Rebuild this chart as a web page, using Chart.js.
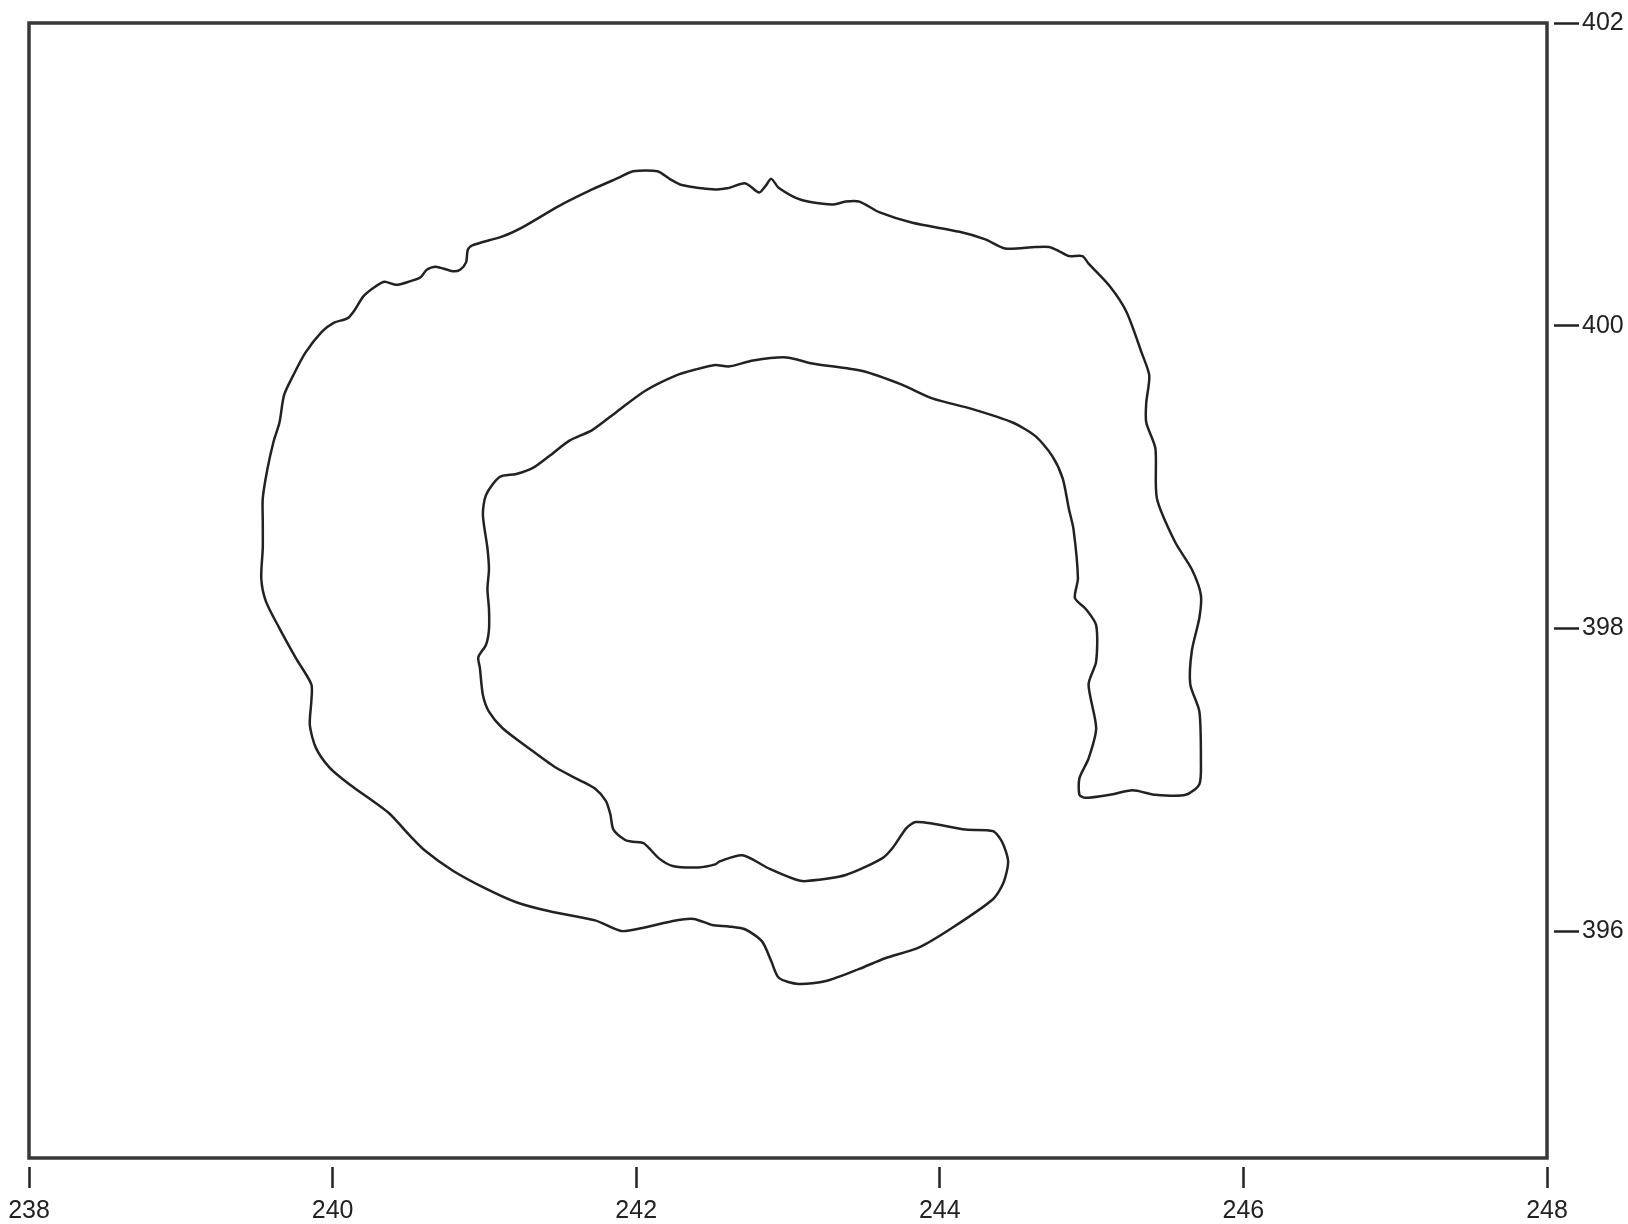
<!DOCTYPE html>
<html>
<head>
<meta charset="utf-8">
<script src="https://cdn.jsdelivr.net/npm/chart.js@4.4.1/dist/chart.umd.min.js"></script>
<style>
  html, body { margin: 0; padding: 0; background: #fff; }
  #wrap { width: 1628px; height: 1224px; position: relative; }
</style>
</head>
<body>
<div id="wrap"><canvas id="outline"></canvas></div>
<script>
// axis ticks
const xTicks = [238, 240, 242, 244, 246, 248];
const yTicks = [396, 398, 400, 402];

// contour, traced as one closed loop (outer edge, lower lobe, inner edge, right lobe)
const loopX = [
  242.61, 242.52, 242.30, 242.22, 242.14, 241.98, 241.89, 241.71, 241.49, 241.25,
  241.12, 240.92, 240.89, 240.88, 240.84, 240.79, 240.68, 240.62, 240.58, 240.50,
  240.42, 240.34, 240.27, 240.20, 240.15, 240.10, 240.01, 239.93, 239.82, 239.74,
  239.68, 239.65, 239.61, 239.57, 239.54, 239.54, 239.54, 239.53, 239.56, 239.65,
  239.76, 239.86, 239.86, 239.85, 239.89, 239.98, 240.11, 240.37, 240.50, 240.61,
  240.79, 240.99, 241.21, 241.43, 241.73, 241.90, 242.04, 242.26, 242.38, 242.50,
  242.61, 242.72, 242.83, 242.89, 242.94, 243.07, 243.25, 243.47, 243.64, 243.86,
  244.08, 244.35, 244.42, 244.45, 244.41, 244.35, 244.17, 243.95, 243.84, 243.78,
  243.69, 243.62, 243.38, 243.12, 243.05, 242.88, 242.70, 242.55, 242.52, 242.41,
  242.24, 242.15, 242.05, 241.98, 241.93, 241.85, 241.83, 241.80, 241.73, 241.62,
  241.47, 241.29, 241.12, 241.03, 240.99, 240.97, 240.96, 241.01, 241.03, 241.03,
  241.02, 241.03, 241.02, 240.99, 241.01, 241.10, 241.21, 241.32, 241.43, 241.56,
  241.71, 241.87, 242.06, 242.26, 242.39, 242.52, 242.61, 242.77, 242.99, 243.16,
  243.49, 243.75, 243.95, 244.21, 244.48, 244.63, 244.74, 244.81, 244.85, 244.88,
  244.91, 244.89, 244.96, 245.03, 245.03, 244.98, 245.03, 244.98, 244.92, 244.92,
  244.96, 245.12, 245.27, 245.42, 245.62, 245.71, 245.72, 245.71, 245.65, 245.66,
  245.71, 245.72, 245.66, 245.55, 245.43, 245.42, 245.36, 245.36, 245.38, 245.33,
  245.23, 245.12, 244.98, 244.94, 244.85, 244.79, 244.72, 244.63, 244.43, 244.30,
  244.13, 243.82, 243.60, 243.47, 243.38, 243.29, 243.09, 242.94, 242.89, 242.85,
  242.81, 242.72, 242.61
];
const loopY = [
  400.91, 400.90, 400.93, 400.97, 401.02, 401.02, 400.98, 400.90, 400.79, 400.65,
  400.59, 400.53, 400.50, 400.42, 400.37, 400.36, 400.39, 400.37, 400.32, 400.29,
  400.27, 400.29, 400.25, 400.19, 400.11, 400.05, 400.02, 399.96, 399.82, 399.67,
  399.54, 399.36, 399.23, 399.05, 398.86, 398.70, 398.53, 398.33, 398.18, 398.00,
  397.80, 397.63, 397.52, 397.36, 397.21, 397.08, 396.97, 396.78, 396.64, 396.53,
  396.40, 396.29, 396.19, 396.13, 396.07, 396.00, 396.02, 396.07, 396.08, 396.04,
  396.03, 396.01, 395.93, 395.80, 395.69, 395.65, 395.67, 395.75, 395.82, 395.89,
  396.02, 396.21, 396.32, 396.46, 396.59, 396.66, 396.67, 396.71, 396.72, 396.68,
  396.55, 396.48, 396.37, 396.33, 396.34, 396.41, 396.50, 396.46, 396.44, 396.42,
  396.43, 396.48, 396.58, 396.59, 396.60, 396.67, 396.77, 396.86, 396.94, 397.00,
  397.08, 397.21, 397.34, 397.45, 397.56, 397.74, 397.81, 397.89, 397.99, 398.13,
  398.26, 398.39, 398.53, 398.75, 398.88, 399.00, 399.02, 399.06, 399.14, 399.24,
  399.31, 399.43, 399.57, 399.67, 399.71, 399.74, 399.73, 399.77, 399.79, 399.75,
  399.70, 399.61, 399.52, 399.45, 399.36, 399.27, 399.14, 398.99, 398.79, 398.66,
  398.33, 398.20, 398.13, 398.02, 397.78, 397.63, 397.34, 397.14, 397.01, 396.90,
  396.88, 396.90, 396.93, 396.90, 396.90, 396.97, 397.12, 397.45, 397.63, 397.85,
  398.07, 398.22, 398.39, 398.57, 398.86, 399.19, 399.36, 399.49, 399.67, 399.82,
  400.09, 400.26, 400.41, 400.46, 400.46, 400.49, 400.52, 400.52, 400.51, 400.57,
  400.62, 400.68, 400.75, 400.82, 400.82, 400.80, 400.83, 400.91, 400.97, 400.92,
  400.88, 400.94, 400.91
];

const ink = '#222';

// frame around the plot area (all four sides)
const framePlugin = {
  id: 'frame',
  afterDraw(chart) {
    const a = chart.chartArea;
    const ctx = chart.ctx;
    ctx.save();
    ctx.strokeStyle = '#383838';
    ctx.lineWidth = 3.5;
    ctx.strokeRect(a.left, a.top, a.right - a.left, a.bottom - a.top);
    ctx.restore();
  }
};

const points = loopX.map((x, i) => ({ x: x, y: loopY[i] }));

const ctx = document.getElementById('outline').getContext('2d');
new Chart(ctx, {
  type: 'scatter',
  data: {
    datasets: [{
      data: points,
      showLine: true,
      borderColor: ink,
      borderWidth: 2.5,
      pointRadius: 0,
      tension: 0.25,
      fill: false
    }]
  },
  options: {
    responsive: true,
    maintainAspectRatio: false,
    animation: false,
    layout: { padding: { left: 29, top: 23, right: 0, bottom: 0 } },
    plugins: {
      legend: { display: false },
      tooltip: { enabled: false }
    },
    scales: {
      x: {
        type: 'linear',
        position: 'bottom',
        min: 238,
        max: 248,
        afterBuildTicks: s => { s.ticks = xTicks.map(v => ({ value: v })); },
        afterFit: s => { s.height = 66; },
        border: { display: false },
        grid: {
          drawOnChartArea: false,
          drawTicks: true,
          tickLength: 30,
          tickColor: ink,
          tickWidth: 2.5,
          tickBorderDash: [0, 9, 21, 60]
        },
        ticks: {
          padding: 8,
          color: ink,
          maxRotation: 0,
          font: { family: 'Liberation Sans', size: 25 }
        }
      },
      y: {
        type: 'linear',
        position: 'right',
        min: 394.5,
        max: 402,
        afterBuildTicks: s => { s.ticks = yTicks.map(v => ({ value: v })); },
        afterFit: s => { s.width = 81; },
        border: { display: false },
        grid: {
          drawOnChartArea: false,
          drawTicks: true,
          tickLength: 32,
          tickColor: ink,
          tickWidth: 2.5,
          tickBorderDash: [0, 7, 25, 60]
        },
        ticks: {
          padding: 3,
          color: ink,
          font: { family: 'Liberation Sans', size: 25 }
        }
      }
    }
  },
  plugins: [framePlugin]
});
</script>
</body>
</html>
